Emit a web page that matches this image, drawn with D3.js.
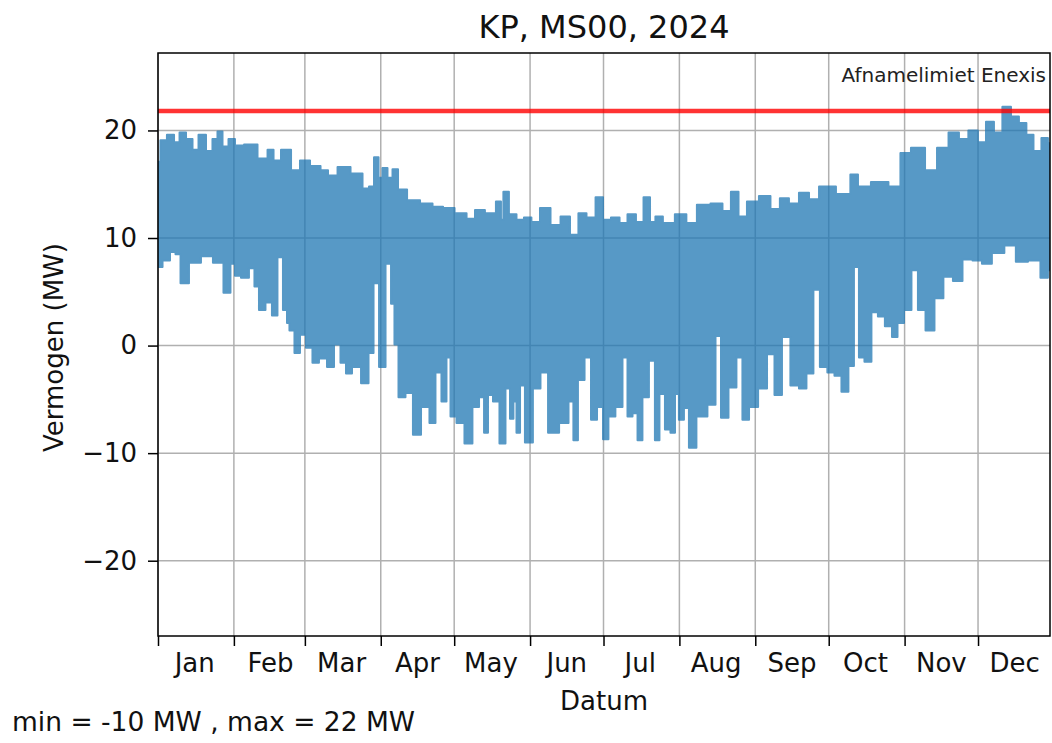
<!DOCTYPE html>
<html>
<head>
<meta charset="utf-8">
<script src="https://cdn.jsdelivr.net/npm/d3@7"></script>
<style>
  body { margin: 0; background: #fff; }
  svg { display: block; font-family: "DejaVu Sans", sans-serif; }
</style>
</head>
<body>
<svg id="chart" width="1052" height="743"></svg>
<script>
// envelope of the 15-min series (day offset from 1 Jan 2024, MW)
const upperDay = [0, 2, 5.3, 7.8, 9.8, 13.1, 15.1, 18, 21.2, 23.3, 25.3, 27.4, 30.2, 32.7, 37.6, 43.7, 45.8, 48.6, 51.9, 56.8,
  59.2, 65, 67.8, 71.1, 75.6, 81.7, 85.4, 87, 89.5, 90.7, 92.7, 94.8, 96.8, 99.3, 104.2, 109.9, 114.4, 118.5, 123.8, 128.3,
  130.7, 136.4, 139.7, 140.5, 141.7, 145, 147.9, 151.1, 154, 158.1, 162.6, 166.3, 170.3, 173.2, 176.9, 180.6, 183, 187.1, 190, 193.6,
  196.9, 199.8, 202.2, 204.2, 208.3, 214, 217.7, 222.6, 228.8, 232.4, 235.7, 238.6, 242.6, 248.4, 252, 256.1, 259.4, 264.3, 267.6, 272.5,
  281.4, 284.3, 287.6, 294.9, 301.9, 304.7, 310.5, 316.2, 320.3, 325.6, 328.8, 333.3, 336.6, 339.9, 343.1, 346.8, 350.1, 353.3, 356.2, 359.1,
  362.7, 364.4]
const upperMW = [17.1, 19.1, 19.6, 18.9, 19.8, 19.2, 18.2, 19.6, 18.1, 19.2, 19.9, 18.5, 19.2, 18.6, 18.7, 17.4, 18.2, 17.2, 18.2, 16.3,
  17.2, 16.7, 16.3, 15.8, 16.6, 16.0, 14.6, 14.8, 17.5, 15.6, 16.5, 15.6, 16.4, 14.5, 13.5, 13.2, 12.9, 12.8, 12.3, 11.8,
  12.6, 12.3, 13.4, 11.7, 14.3, 12.2, 11.7, 11.9, 11.5, 12.8, 11.2, 12.0, 10.3, 12.3, 11.9, 13.8, 11.7, 11.9, 11.4, 12.2,
  11.5, 13.8, 11.5, 12.0, 11.4, 12.2, 11.4, 13.1, 13.2, 12.5, 14.3, 12.0, 13.4, 13.9, 12.7, 13.7, 13.2, 14.2, 13.6, 14.8,
  14.1, 15.9, 14.8, 15.2, 14.8, 17.9, 18.4, 16.3, 18.4, 19.8, 19.2, 20.0, 18.9, 20.8, 19.8, 22.2, 21.3, 20.7, 19.6, 18.1,
  19.3, 18.8]

const lowerDay = [0, 3.7, 6.1, 8.2, 10.2, 15.1, 20, 24.9, 28.6, 30.6, 32.3, 35.5, 38.8, 40, 42.5, 45.3, 47.8, 49.8, 52.3, 53.1,
  54.3, 57.2, 58.8, 62.1, 64.1, 67.4, 70.7, 73.1, 76, 77.6, 80.9, 85, 87, 89.1, 91.5, 94.4, 96, 97.2, 99.3, 102.9,
  105.4, 109.5, 112.3, 114.4, 117.2, 118.5, 120.5, 123.4, 127, 129.9, 132.4, 134, 135.6, 138.1, 140.9, 143, 144.6, 145.8, 147.1, 148.7,
  151.1, 155.2, 157.3, 161.4, 166.3, 169.1, 170.3, 172.8, 175.7, 178.1, 180.6, 183, 185, 188.7, 190.8, 192.8, 194.9, 196.9, 198.9, 202.2,
  203.8, 205.9, 208.3, 210.4, 212, 213.6, 216.1, 217.7, 222.2, 226.7, 228.8, 231.2, 234.9, 237.7, 239.8, 243.1, 247.2, 250.4, 253.3, 256.5,
  260.2, 263.5, 266.3, 269.2, 271.6, 275.3, 277.4, 281, 283.1, 285.5, 287.2, 290, 292.9, 295.3, 298.6, 301.1, 303.1, 306.4, 309.2, 311.7,
  315.4, 319, 322.7, 326.8, 330.5, 335, 338.2, 343.1, 348.4, 352.5, 358.3, 362.7, 364.4]
const lowerMW = [7.3, 7.9, 8.7, 8.5, 5.8, 7.7, 8.3, 7.7, 4.9, 7.6, 6.5, 6.3, 7.2, 5.5, 3.3, 4.0, 2.8, 8.2, 3.3, 2.1,
  1.4, -0.7, 1.0, -0.2, -1.6, -1.2, -2.0, 0.1, -1.6, -2.6, -2.0, -3.5, -0.7, 5.8, -2.0, 7.6, 3.9, 0.1, -4.8, -4.4,
  -8.3, -5.7, -7.2, -2.5, -5.2, -1.1, -6.6, -7.2, -9.1, -5.7, -4.8, -8.1, -4.6, -5.2, -9.1, -4.0, -6.8, -5.2, -8.1, -3.7,
  -9.0, -4.0, -2.5, -8.1, -7.2, -5.2, -8.8, -3.2, -1.1, -6.9, -5.7, -8.7, -6.6, -5.7, -1.1, -6.6, -6.3, -8.8, -4.8, -1.4,
  -8.8, -4.5, -7.8, -8.1, -4.5, -6.9, -5.8, -9.5, -6.6, -5.5, 0.9, -6.7, -3.9, -1.1, -6.9, -5.7, -4.0, -0.8, -4.6, 0.8,
  -3.7, -4.0, -2.6, 5.2, -2.0, -2.5, -2.8, -4.3, -1.9, 7.3, -1.1, -1.5, 3.1, 2.7, 1.8, 0.8, 2.1, 3.3, 7.0, 3.3,
  1.4, 4.4, 6.4, 6.0, 8.0, 7.9, 7.6, 8.6, 9.3, 7.8, 7.9, 6.3, 7.0]

const limitMW = 21.8
const yTicks = [-20, -10, 0, 10, 20]
const monthLabels = ['Jan', 'Feb', 'Mar', 'Apr', 'May', 'Jun', 'Jul', 'Aug', 'Sep', 'Oct', 'Nov', 'Dec']
const footText = 'min = -10 MW , max = 22 MW'

let margin = {top: 53, right: 2, bottom: 107, left: 158}
let width = 1052, height = 743

let t0 = new Date(2024, 0, 1)
let dayToDate = d => new Date(t0.getTime() + d * 864e5)

let x = d3.scaleTime()
    .domain([t0, dayToDate(364.4)])
    .range([margin.left, width - margin.right])

let y = d3.scaleLinear()
    .domain([-27, 27.2])
    .range([height - margin.bottom, margin.top])

const svg = d3.select('#chart')

svg.append('defs').append('clipPath').attr('id', 'plot-clip')
  .append('rect')
    .attr('x', margin.left).attr('y', margin.top)
    .attr('width', x.range()[1] - margin.left)
    .attr('height', y.range()[0] - margin.top)

// grid
let monthStarts = d3.timeMonth.range(t0, new Date(2024, 11, 2))
svg.append('g')
  .selectAll('line')
  .data(monthStarts)
  .join('line')
    .attr('x1', d => x(d)).attr('x2', d => x(d))
    .attr('y1', margin.top).attr('y2', y.range()[0])
    .attr('stroke', '#b0b0b0').attr('stroke-width', 1.5)
svg.append('g')
  .selectAll('line')
  .data(yTicks)
  .join('line')
    .attr('x1', margin.left).attr('x2', x.range()[1])
    .attr('y1', d => y(d)).attr('y2', d => y(d))
    .attr('stroke', '#b0b0b0').attr('stroke-width', 1.5)

// band: upper edge forward, lower edge back
let pts = upperDay.map((d, i) => [x(dayToDate(d)), y(upperMW[i])])
  .concat(lowerDay.map((d, i) => [x(dayToDate(d)), y(lowerMW[i])]).reverse())

svg.append('g')
    .attr('clip-path', 'url(#plot-clip)')
    .attr('opacity', 0.75)
  .append('path')
    .attr('d', d3.line().curve(d3.curveStep)(pts) + 'Z')
    .attr('fill', '#1f77b4')
    .attr('stroke', '#1f77b4')
    .attr('stroke-width', 2)
    .attr('stroke-linejoin', 'round')

// limit line
svg.append('line')
    .attr('x1', margin.left).attr('x2', x.range()[1])
    .attr('y1', y(limitMW)).attr('y2', y(limitMW))
    .attr('stroke', 'red').attr('stroke-opacity', 0.8)
    .attr('stroke-width', 4.5)

svg.append('text')
    .attr('x', 1046).attr('y', 82)
    .attr('text-anchor', 'end')
    .attr('font-size', 20)
    .attr('fill', '#222')
    .text('Afnamelimiet Enexis')

// axes
let yAxis = svg.append('g')
    .attr('transform', `translate(${margin.left},0)`)
    .call(d3.axisLeft(y).tickValues(yTicks).tickSize(10).tickPadding(11))
yAxis.select('.domain').remove()
yAxis.selectAll('.tick line').attr('stroke', '#000').attr('stroke-width', 1.5)
yAxis.selectAll('.tick text').attr('font-size', 26).attr('font-family', 'DejaVu Sans').attr('fill', '#111')

let xAxis = svg.append('g')
    .attr('transform', `translate(0,${y.range()[0]})`)
    .call(d3.axisBottom(x).tickValues(monthStarts).tickSize(10).tickFormat(''))
xAxis.select('.domain').remove()
xAxis.selectAll('.tick line').attr('stroke', '#000').attr('stroke-width', 1.5)

svg.append('g')
    .attr('font-size', 26)
    .attr('fill', '#111')
  .selectAll('text')
  .data(monthLabels)
  .join('text')
    .attr('x', (d, i) => x(new Date(2024, i, 16)))
    .attr('y', 672)
    .attr('text-anchor', 'middle')
    .text(d => d)

// frame
svg.append('rect')
    .attr('x', margin.left).attr('y', margin.top)
    .attr('width', x.range()[1] - margin.left)
    .attr('height', y.range()[0] - margin.top)
    .attr('fill', 'none')
    .attr('stroke', '#000').attr('stroke-width', 1.5)

// titles
svg.append('text')
    .attr('x', (margin.left + x.range()[1]) / 2).attr('y', 38)
    .attr('text-anchor', 'middle')
    .attr('font-size', 32)
    .attr('fill', '#111')
    .text('KP, MS00, 2024')

svg.append('text')
    .attr('x', (margin.left + x.range()[1]) / 2).attr('y', 710)
    .attr('text-anchor', 'middle')
    .attr('font-size', 26)
    .attr('fill', '#111')
    .text('Datum')

svg.append('text')
    .attr('transform', `translate(63,${(margin.top + y.range()[0]) / 2 + 3}) rotate(-90)`)
    .attr('text-anchor', 'middle')
    .attr('font-size', 26)
    .attr('fill', '#111')
    .text('Vermogen (MW)')

svg.append('text')
    .attr('x', 12).attr('y', 731)
    .attr('font-size', 26.5)
    .attr('fill', '#111')
    .text(footText)
</script>
</body>
</html>
